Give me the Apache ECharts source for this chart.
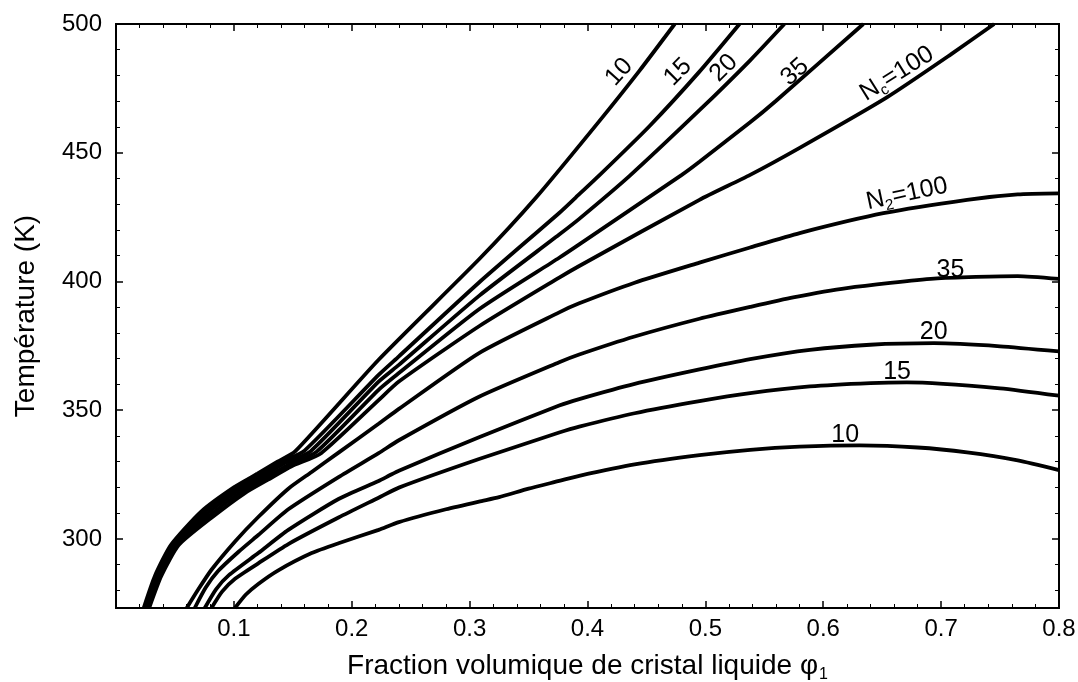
<!DOCTYPE html>
<html>
<head>
<meta charset="utf-8">
<script src="https://cdn.jsdelivr.net/npm/echarts@6/dist/echarts.min.js"></script>
<style>
  html, body { margin: 0; padding: 0; background: #fff; }
  #chart { width: 1078px; height: 682px; }
</style>
</head>
<body>
<div id="chart"></div>
<script>
// ---- data: [phi1, T (K)] ----
// Nc family (the five curves that leave the common branch and go up)
const nc10 = [[0.0235,273.15],[0.0330,285.6],[0.0465,297.6],[0.0720,310.5],[0.1000,320.0],[0.1200,325.3],[0.1370,330.0],[0.1520,334.0],
  [0.2228,369.6],[0.308,408.6],[0.356,432.4],[0.409,461.7],[0.444,481.8],[0.474,500]]
const nc15 = [[0.0245,273.15],[0.0342,285.6],[0.0480,297.6],[0.0740,310.0],[0.1020,319.5],[0.1220,324.8],[0.1400,329.8],[0.1600,334.3],
  [0.2228,363.7],[0.240,370.9],[0.308,399.6],[0.376,426.6],[0.390,432.6],[0.410,441.2],[0.4525,460.3],[0.495,481.5],[0.529,500]]
const nc20 = [[0.0257,273.15],[0.0356,285.6],[0.0497,297.6],[0.0762,309.4],[0.1042,318.9],[0.1242,324.2],[0.1432,329.4],[0.1650,334.0],
  [0.2228,361.1],[0.240,367.6],[0.308,394.4],[0.376,418.2],[0.393,424.3],[0.4355,440.9],[0.495,466.5],[0.538,485.9],[0.567,500]]
const nc35 = [[0.0269,273.15],[0.0370,285.6],[0.0514,297.6],[0.0785,308.8],[0.1065,318.3],[0.1265,323.6],[0.1465,328.8],[0.1700,333.8],
  [0.2228,357.9],[0.240,364.4],[0.308,389.2],[0.376,409.2],[0.393,414.4],[0.480,441.4],[0.495,446.5],[0.538,461.8],[0.560,470.2],[0.634,500]]
const nc100 = [[0.0281,273.15],[0.0384,285.6],[0.0532,297.6],[0.0810,308.2],[0.1090,317.7],[0.1290,323.0],[0.1490,328.2],[0.1740,333.3],
  [0.2228,353.9],[0.240,361.1],[0.308,382.6],[0.376,401.5],[0.393,406.0],[0.495,431.7],[0.538,441.4],[0.580,451.9],[0.654,471.5],[0.708,488.1],[0.745,500]]

// N2 family (the five curves that flatten out)
const n2_100 = [[0.0600,273.15],[0.0700,280.5],[0.0810,288.0],[0.1010,299.0],[0.1207,308.5],[0.1462,319.5],[0.166,326.0],[0.1888,333.5],
  [0.2228,344.7],[0.240,350.5],[0.308,372.2],[0.376,388.0],[0.393,391.5],[0.440,399.5],[0.495,407.3],[0.538,413.2],[0.580,418.8],
  [0.651,426.5],[0.722,431.7],[0.765,433.8],[0.800,434.2]]
const n2_35 = [[0.0668,273.15],[0.0760,281.0],[0.0866,287.5],[0.1040,295.0],[0.1207,301.5],[0.1462,311.5],[0.1888,324.0],[0.2228,333.3],
  [0.240,338.3],[0.308,355.2],[0.376,368.6],[0.393,371.6],[0.440,378.6],[0.495,385.5],[0.538,390.1],[0.5745,393.8],[0.620,397.4],
  [0.694,401.1],[0.765,402.1],[0.800,401.0]]
const n2_20 = [[0.0753,273.15],[0.0850,280.5],[0.0960,286.0],[0.1207,294.5],[0.1462,303.5],[0.1888,315.5],[0.2228,322.5],[0.2314,324.5],
  [0.240,326.5],[0.308,339.5],[0.376,351.8],[0.393,354.3],[0.440,360.2],[0.495,365.8],[0.538,369.8],[0.5887,373.4],[0.640,375.4],
  [0.694,376.0],[0.750,374.8],[0.800,372.8]]
const n2_15 = [[0.0810,273.15],[0.0900,279.5],[0.1010,284.5],[0.1207,290.5],[0.1462,298.0],[0.1888,308.3],[0.2228,316.0],[0.240,319.9],
  [0.308,331.0],[0.376,341.3],[0.393,343.6],[0.440,348.8],[0.495,353.5],[0.538,356.6],[0.5887,359.2],[0.640,360.5],[0.671,360.8],
  [0.750,358.5],[0.800,355.6]]
const n2_10 = [[0.1009,273.15],[0.1100,278.3],[0.1207,282.5],[0.1377,287.8],[0.166,294.5],[0.1888,298.3],[0.2228,303.5],[0.240,306.5],
  [0.280,311.5],[0.308,314.5],[0.325,316.2],[0.350,319.5],[0.376,322.5],[0.393,324.5],[0.440,328.9],[0.495,332.5],[0.538,334.6],
  [0.580,335.8],[0.631,336.3],[0.680,335.5],[0.722,333.6],[0.765,330.5],[0.800,326.7]]

const curves = [nc10, nc15, nc20, nc35, nc100, n2_100, n2_35, n2_20, n2_15, n2_10]

// curve labels: [phi1, T, text, rotation]
const curveLabels = [
  [0.4268, 481.3, '10', 48],
  [0.4767, 481.3, '15', 45],
  [0.5156, 482.9, '20', 45],
  [0.5760, 481.3, '35', 42],
  [0.6626, 480.7, '{b|N}{s|c}{b|=100}', 32],
  [0.6710, 434.0, '{b|N}{s|2}{b|=100}', 12],
  [0.7079, 404.5, '35', 0],
  [0.6937, 380.5, '20', 0],
  [0.6626, 364.8, '15', 0],
  [0.6186, 340.4, '10', 0]
]

// axis ticks
const yMajor = [300, 350, 400, 450, 500]
const yMinor = [280, 290, 310, 320, 330, 340, 360, 370, 380, 390, 410, 420, 430, 440, 460, 470, 480, 490]

const FONT = '"Liberation Sans", Arial, Helvetica, sans-serif'
const chart = echarts.init(document.getElementById('chart'))

const baseX = {
  type: 'value',
  min: 0,
  max: 0.8,
  interval: 0.1,
  axisLine: { show: true, onZero: false, lineStyle: { color: '#000', width: 2 } },
  axisTick: { show: true, inside: true, length: 7, lineStyle: { color: '#000', width: 1.5 } },
  minorTick: { show: true, splitNumber: 5, length: 4, lineStyle: { color: '#000', width: 1 } },
  splitLine: { show: false }
}
const baseY = {
  type: 'value',
  min: 273.15,
  max: 500,
  axisLine: { show: true, onZero: false, lineStyle: { color: '#000', width: 2 } },
  splitLine: { show: false }
}

const option = {
  animation: false,
  backgroundColor: '#fff',
  grid: { left: 116, right: 19, top: 24, bottom: 74, containLabel: false, outerBoundsMode: 'none' },
  xAxis: [
    Object.assign({}, baseX, {
      position: 'bottom',
      name: '{t|Fraction volumique de cristal liquide φ}{s|1}',
      nameLocation: 'middle',
      nameGap: 42,
      nameTextStyle: {
        color: '#000',
        fontFamily: FONT,
        fontSize: 28,
        rich: {
          t: { fontSize: 28, fontFamily: FONT, color: '#000' },
          s: { fontSize: 16, fontFamily: FONT, color: '#000', verticalAlign: 'top', padding: [17, 0, 0, 1] }
        }
      },
      axisLabel: {
        show: true,
        showMinLabel: false,
        margin: 9,
        color: '#000',
        fontFamily: FONT,
        fontSize: 24,
        formatter: v => v.toFixed(1)
      }
    }),
    Object.assign({}, baseX, { position: 'top', axisLabel: { show: false } })
  ],
  yAxis: [
    Object.assign({}, baseY, {
      position: 'left',
      name: 'Température (K)',
      nameLocation: 'middle',
      nameGap: 76,
      nameTextStyle: { color: '#000', fontFamily: FONT, fontSize: 28 },
      axisTick: { show: true, inside: true, length: 7, customValues: yMajor, lineStyle: { color: '#000', width: 1.5 } },
      axisLabel: { show: true, customValues: yMajor, margin: 14, color: '#000', fontFamily: FONT, fontSize: 24 }
    }),
    Object.assign({}, baseY, {
      position: 'left',
      axisTick: { show: true, inside: true, length: 4, customValues: yMinor, lineStyle: { color: '#000', width: 1 } },
      axisLabel: { show: false }
    }),
    Object.assign({}, baseY, {
      position: 'right',
      axisTick: { show: true, inside: true, length: 7, customValues: yMajor, lineStyle: { color: '#000', width: 1.5 } },
      axisLabel: { show: false }
    }),
    Object.assign({}, baseY, {
      position: 'right',
      axisTick: { show: true, inside: true, length: 4, customValues: yMinor, lineStyle: { color: '#000', width: 1 } },
      axisLabel: { show: false }
    })
  ],
  series: curves.map(c => ({
    type: 'line',
    data: c,
    showSymbol: false,
    symbol: 'none',
    smooth: 0.2,
    clip: true,
    lineStyle: { color: '#000', width: 3.8 }
  })).concat([{
    type: 'scatter',
    symbolSize: 0,
    silent: true,
    itemStyle: { opacity: 1 },
    data: curveLabels.map(l => ({
      value: [l[0], l[1]],
      label: { rotate: l[3], formatter: l[2] }
    })),
    label: {
      show: true,
      position: [0, 0],
      align: 'center',
      verticalAlign: 'middle',
      color: '#000',
      textBorderWidth: 0,
      fontFamily: FONT,
      fontSize: 25,
      rich: {
        b: { fontSize: 25, fontFamily: FONT, color: '#000' },
        s: { fontSize: 15, fontFamily: FONT, color: '#000', verticalAlign: 'top', padding: [15, 0, 0, 0] }
      }
    }
  }])
}

chart.setOption(option)
</script>
</body>
</html>
